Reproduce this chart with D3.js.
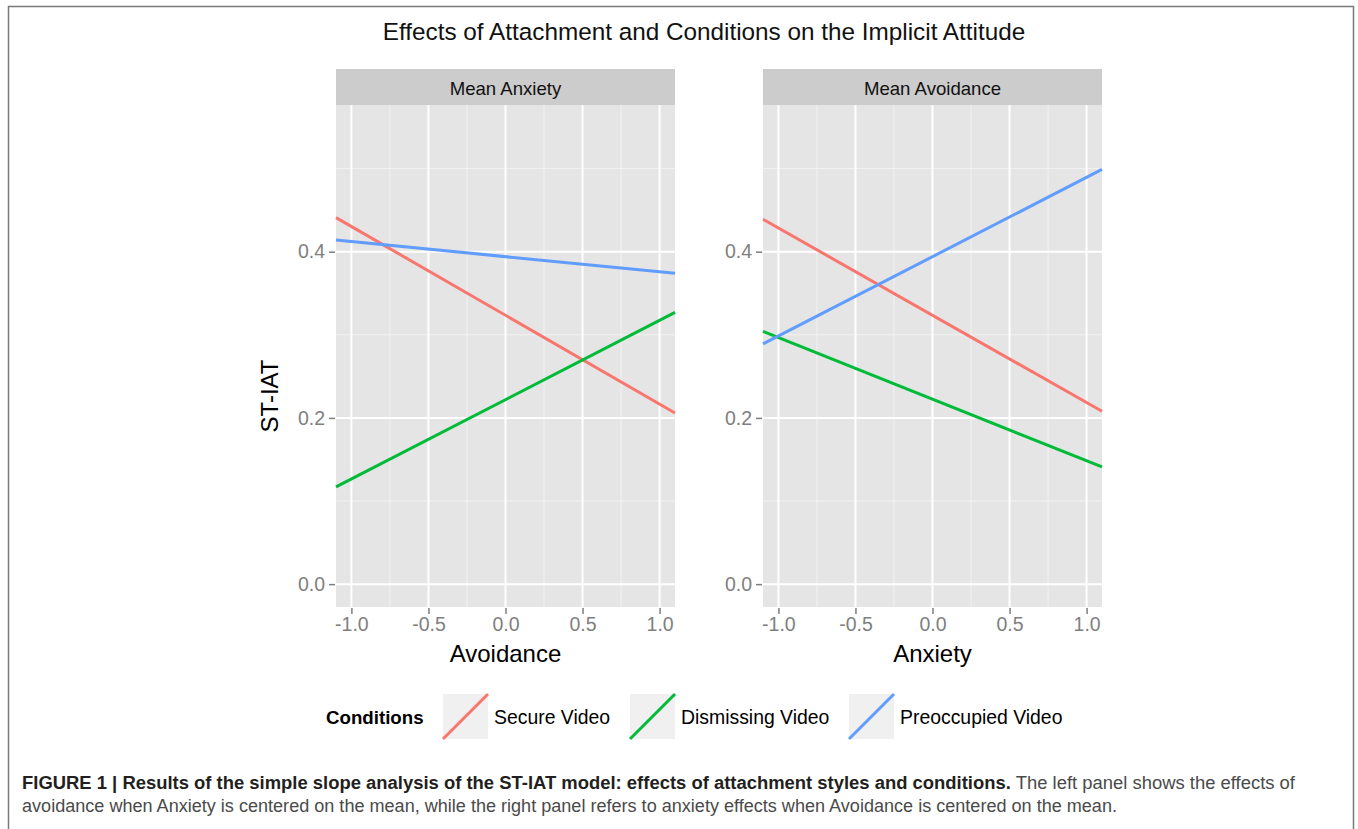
<!DOCTYPE html>
<html>
<head>
<meta charset="utf-8">
<script src="https://cdn.jsdelivr.net/npm/d3@7/dist/d3.min.js"></script>
<style>
  html, body { margin: 0; padding: 0; background: #fff; }
  svg text { font-family: "Liberation Sans", Arial, Helvetica, sans-serif; }
</style>
</head>
<body>
<svg id="chart" width="1358" height="829"></svg>
<script>
// ---------- data ----------
const chartTitle = "Effects of Attachment and Conditions on the Implicit Attitude";
const panelTitles = ["Mean Anxiety", "Mean Avoidance"];
const xTitles = ["Avoidance", "Anxiety"];
const yTitle = "ST-IAT";
const conditions = ["Secure Video", "Dismissing Video", "Preoccupied Video"];
const xEnds = [-1.1, 1.1];
// predicted ST-IAT at the two ends of the x range, per condition
const leftSecure = [0.441, 0.206];
const leftDismissing = [0.117, 0.327];
const leftPreoccupied = [0.414, 0.374];
const rightSecure = [0.439, 0.208];
const rightDismissing = [0.304, 0.141];
const rightPreoccupied = [0.289, 0.499];
const xTicks = [-1.0, -0.5, 0.0, 0.5, 1.0];
const xMinor = [-0.75, -0.25, 0.25, 0.75];
const yTicks = [0.0, 0.2, 0.4];
const yMinor = [0.1, 0.3, 0.5];
const captionBold = "FIGURE 1 | Results of the simple slope analysis of the ST-IAT model: effects of attachment styles and conditions.";
const captionRest1 = " The left panel shows the effects of";
const captionLine2 = "avoidance when Anxiety is centered on the mean, while the right panel refers to anxiety effects when Avoidance is centered on the mean.";

// ---------- styles ----------
const colors = ["#F8766D", "#00BA38", "#619CFF"];
const panelDefs = [
  { left: 336, right: 675, series: [leftSecure, leftDismissing, leftPreoccupied] },
  { left: 763, right: 1102, series: [rightSecure, rightDismissing, rightPreoccupied] }
];
const panelTop = 105, panelBottom = 607, stripTop = 69;
const xDomain = [-1.1, 1.1];
const yDomain = [-0.0275, 0.5765];

const svg = d3.select("#chart");
svg.append("rect").attr("width", 1358).attr("height", 829).attr("fill", "#fff");

// frame
svg.append("path")
  .attr("d", "M8.5,829 L8.5,6.5 L1353.5,6.5 L1353.5,829")
  .attr("fill", "none").attr("stroke", "#7a7a7a").attr("stroke-width", 1.5);

// title
svg.append("text").attr("x", 704).attr("y", 40).attr("text-anchor", "middle")
  .attr("font-size", 24.3).attr("fill", "#111").text(chartTitle);

const y = d3.scaleLinear().domain(yDomain).range([panelBottom, panelTop]);

panelDefs.forEach((p, pi) => {
  const x = d3.scaleLinear().domain(xDomain).range([p.left, p.right]);
  const g = svg.append("g");
  // strip
  g.append("rect").attr("x", p.left).attr("y", stripTop)
    .attr("width", p.right - p.left).attr("height", panelTop - stripTop).attr("fill", "#CCCCCC");
  g.append("text").attr("x", (p.left + p.right) / 2).attr("y", 94.5)
    .attr("text-anchor", "middle").attr("font-size", 18.6).attr("fill", "#111").text(panelTitles[pi]);
  // panel background
  g.append("rect").attr("x", p.left).attr("y", panelTop)
    .attr("width", p.right - p.left).attr("height", panelBottom - panelTop).attr("fill", "#E5E5E5");
  // minor grid
  g.selectAll(".vminor").data(xMinor).join("line")
    .attr("x1", d => x(d)).attr("x2", d => x(d)).attr("y1", panelTop).attr("y2", panelBottom)
    .attr("stroke", "#F2F2F2").attr("stroke-width", 1);
  g.selectAll(".hminor").data(yMinor).join("line")
    .attr("y1", d => y(d)).attr("y2", d => y(d)).attr("x1", p.left).attr("x2", p.right)
    .attr("stroke", "#F2F2F2").attr("stroke-width", 1);
  // major grid
  g.selectAll(".vmajor").data(xTicks).join("line")
    .attr("x1", d => x(d)).attr("x2", d => x(d)).attr("y1", panelTop).attr("y2", panelBottom)
    .attr("stroke", "#FFFFFF").attr("stroke-width", 2);
  g.selectAll(".hmajor").data(yTicks).join("line")
    .attr("y1", d => y(d)).attr("y2", d => y(d)).attr("x1", p.left).attr("x2", p.right)
    .attr("stroke", "#FFFFFF").attr("stroke-width", 2);

  // lines
  const line = d3.line().x(d => x(d[0])).y(d => y(d[1]));
  p.series.forEach((vals, si) => {
    g.append("path").datum(xEnds.map((xv, i) => [xv, vals[i]]))
      .attr("d", line).attr("fill", "none").attr("stroke", colors[si]).attr("stroke-width", 3);
  });

  // x axis
  const xAxis = d3.axisBottom(x).tickValues(xTicks).tickFormat(d3.format(".1f")).tickSize(6).tickPadding(3);
  const xa = g.append("g").attr("transform", `translate(0,${panelBottom + 1})`).call(xAxis);
  xa.select(".domain").remove();
  xa.selectAll(".tick line").attr("stroke", "#7f7f7f").attr("stroke-width", 1.5);
  xa.selectAll(".tick text").attr("fill", "#7f7f7f").attr("font-size", 19.5)
    .attr("font-family", '"Liberation Sans", Arial, sans-serif')
    .text(d => d3.format(".1f")(d).replace("−", "-"));
  g.append("text").attr("x", (p.left + p.right) / 2).attr("y", 662)
    .attr("text-anchor", "middle").attr("font-size", 24).attr("fill", "#000").text(xTitles[pi]);

  // y axis
  const yAxis = d3.axisLeft(y).tickValues(yTicks).tickFormat(d3.format(".1f")).tickSize(6).tickPadding(4);
  const ya = g.append("g").attr("transform", `translate(${p.left - 1},0)`).call(yAxis);
  ya.select(".domain").remove();
  ya.selectAll(".tick line").attr("stroke", "#7f7f7f").attr("stroke-width", 1.5);
  ya.selectAll(".tick text").attr("fill", "#7f7f7f").attr("font-size", 19.5)
    .attr("font-family", '"Liberation Sans", Arial, sans-serif');
});

// y title
svg.append("text").attr("transform", "translate(278,396) rotate(-90)")
  .attr("text-anchor", "middle").attr("font-size", 24).attr("fill", "#000").text(yTitle);

// legend
const legendY = 694, keySize = 45;
svg.append("text").attr("x", 326).attr("y", 724).attr("font-size", 18.7)
  .attr("font-weight", "bold").attr("fill", "#000").text("Conditions");
const keyX = [443, 630, 849];
conditions.forEach((c, i) => {
  const lg = svg.append("g").attr("transform", `translate(${keyX[i]},${legendY})`);
  lg.append("rect").attr("width", keySize).attr("height", keySize).attr("fill", "#F0F0F0");
  lg.append("line").attr("x1", 0).attr("y1", keySize).attr("x2", keySize).attr("y2", 0)
    .attr("stroke", colors[i]).attr("stroke-width", 3);
  lg.append("text").attr("x", keySize + 6).attr("y", 30).attr("font-size", 19.4)
    .attr("fill", "#000").text(c);
});

// caption
const cap1 = svg.append("text").attr("x", 22).attr("y", 789).attr("font-size", 17.5)
  .attr("font-family", '"Liberation Sans Narrow", "Arial Narrow", "Liberation Sans", sans-serif')
  .attr("textLength", 1273).attr("lengthAdjust", "spacingAndGlyphs");
cap1.append("tspan").attr("font-weight", "bold").attr("fill", "#231f20").text(captionBold);
cap1.append("tspan").attr("fill", "#4a4a4a").text(captionRest1);
svg.append("text").attr("x", 22).attr("y", 812).attr("font-size", 17.5)
  .attr("font-family", '"Liberation Sans Narrow", "Arial Narrow", "Liberation Sans", sans-serif')
  .attr("textLength", 1095).attr("lengthAdjust", "spacingAndGlyphs")
  .attr("fill", "#4a4a4a").text(captionLine2);
</script>
</body>
</html>
